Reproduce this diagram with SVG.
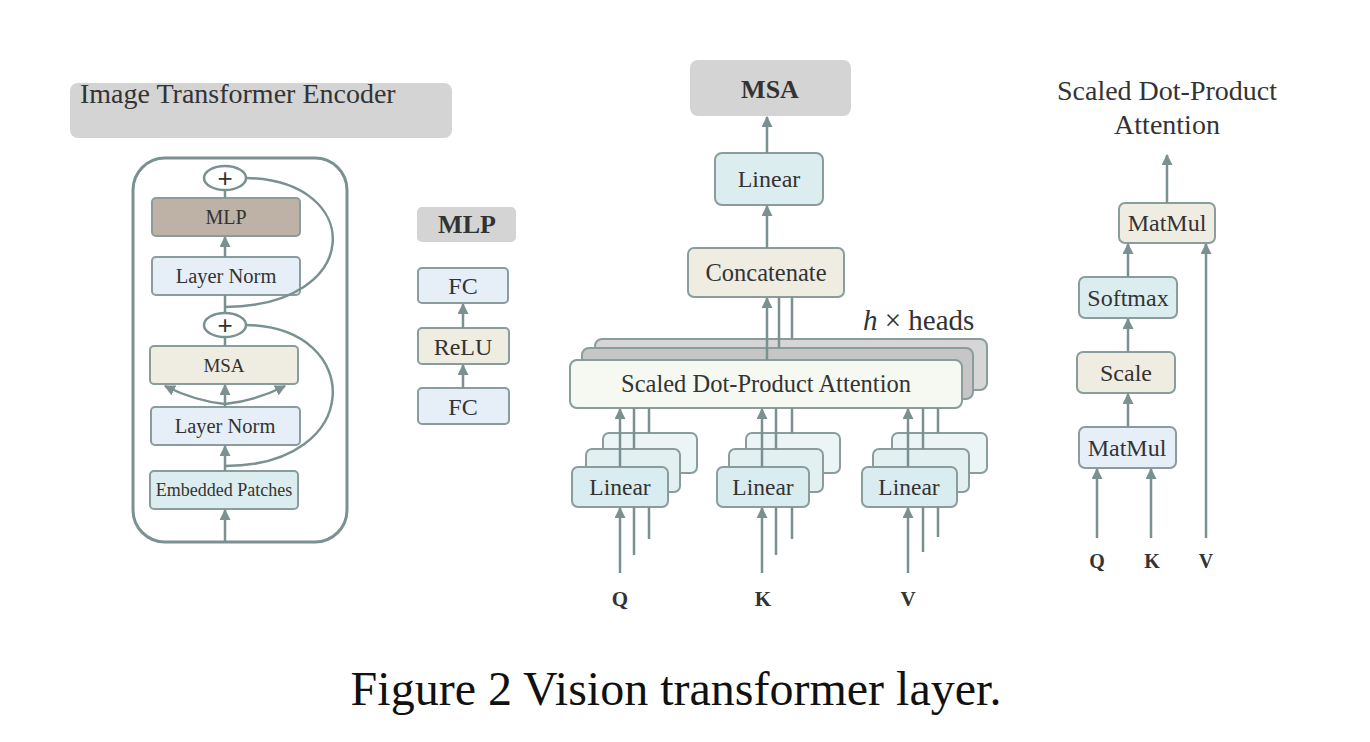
<svg xmlns="http://www.w3.org/2000/svg" width="1370" height="742" viewBox="0 0 1370 742">
<style>
  text { font-family: "Liberation Serif", "Times New Roman", serif; fill: #333; }
  .c { text-anchor: middle; }
  .box { stroke: #8a9c9c; stroke-width: 2; }
  .gray { fill: #d4d4d4; }
  .beige { fill: #efece2; }
  .blue { fill: #e6eef8; }
  .teal { fill: #dcedf0; }
  .brown { fill: #beb1a5; }
  .ln { stroke: #7b9090; stroke-width: 2.5; fill: none; }
  .arr { stroke: #7b9090; stroke-width: 2.5; fill: none; marker-end: url(#ah); }
</style>
<defs>
  <marker id="ah" viewBox="0 0 10 10" refX="9" refY="5" markerWidth="11" markerHeight="11" markerUnits="userSpaceOnUse" orient="auto">
    <path d="M0,0 L10,5 L0,10 z" fill="#7b9090"/>
  </marker>
</defs>
<rect width="1370" height="742" fill="#ffffff"/>

<!-- Left panel -->
<g id="encoder-title">
  <rect x="70" y="83" width="382" height="55" rx="8" class="gray"/>
  <text x="80" y="103" font-size="28">Image Transformer Encoder</text>
</g>
<g id="encoder-frame">
  <rect x="133" y="158" width="214" height="384" rx="32" fill="none" stroke="#7b9090" stroke-width="3"/>
</g>
<g id="add-top">
  <ellipse cx="225" cy="178" rx="21" ry="12" fill="#fff" stroke="#7b9090" stroke-width="2.5"/>
  <text x="225" y="187" class="c" font-size="26" style="font-family:'Liberation Sans',sans-serif" fill="#222">+</text>
</g>
<g id="enc-mlp">
  <rect x="152" y="198" width="148" height="38" rx="4" class="box brown"/>
  <text x="226" y="224" class="c" font-size="20">MLP</text>
</g>
<g id="enc-ln1">
  <rect x="152" y="257" width="148" height="38" rx="4" class="box blue"/>
  <text x="226" y="283" class="c" font-size="20.5">Layer Norm</text>
</g>
<g id="add-mid">
  <ellipse cx="225" cy="325" rx="21" ry="12" fill="#fff" stroke="#7b9090" stroke-width="2.5"/>
  <text x="225" y="334" class="c" font-size="26" style="font-family:'Liberation Sans',sans-serif" fill="#222">+</text>
</g>
<g id="enc-msa">
  <rect x="150" y="346" width="148" height="38" rx="4" class="box beige"/>
  <text x="224" y="372" class="c" font-size="19">MSA</text>
</g>
<g id="enc-ln2">
  <rect x="151" y="407" width="149" height="38" rx="4" class="box blue"/>
  <text x="225" y="433" class="c" font-size="20.5">Layer Norm</text>
</g>
<g id="enc-embed">
  <rect x="150" y="471" width="148" height="38" rx="4" class="box teal"/>
  <text x="224" y="496" class="c" font-size="18">Embedded Patches</text>
</g>

<!-- MLP panel -->
<g id="mlp-title">
  <rect x="417" y="207" width="99" height="35" rx="5" class="gray"/>
  <text x="467" y="233" class="c" font-size="26" font-weight="bold">MLP</text>
</g>
<g id="mlp-fc2">
  <rect x="418" y="268" width="90" height="35" rx="4" class="box blue"/>
  <text x="463" y="294" class="c" font-size="24">FC</text>
</g>
<g id="mlp-relu">
  <rect x="418" y="328" width="91" height="36" rx="4" class="box beige"/>
  <text x="463" y="355" class="c" font-size="24">ReLU</text>
</g>
<g id="mlp-fc1">
  <rect x="418" y="388" width="91" height="36" rx="4" class="box blue"/>
  <text x="463" y="415" class="c" font-size="24">FC</text>
</g>

<!-- Middle panel -->
<g id="msa-title">
  <rect x="690" y="60" width="161" height="56" rx="8" class="gray"/>
  <text x="770" y="98" class="c" font-size="26" font-weight="bold">MSA</text>
</g>
<g id="msa-linear">
  <rect x="715" y="153" width="108" height="52" rx="7" class="box teal"/>
  <text x="769" y="187" class="c" font-size="24">Linear</text>
</g>
<g id="concat">
  <rect x="688" y="248" width="156" height="49" rx="6" class="box beige"/>
  <text x="766" y="281" class="c" font-size="24.5">Concatenate</text>
</g>
<g id="heads-label">
  <text x="863" y="330" font-size="29"><tspan font-style="italic">h</tspan> × heads</text>
</g>
<g id="sdpa-stack">
  <rect x="595" y="339" width="392" height="51" rx="7" class="box" fill="#d6d6d6"/>
  <rect x="582" y="348" width="391" height="51" rx="7" class="box" fill="#c6c6c6"/>
  <rect x="570" y="360" width="392" height="48" rx="7" class="box" fill="#f6f8f2"/>
  <text x="766" y="392" class="c" font-size="24.5">Scaled Dot-Product Attention</text>
</g>
<g id="linear-q">
  <rect x="603" y="433" width="94" height="40" rx="6" class="box" fill="#ebf5f6"/>
  <rect x="586" y="449" width="94" height="43" rx="6" class="box" fill="#e2f0f2"/>
  <rect x="572" y="467" width="96" height="40" rx="6" class="box" fill="#d9ecef"/>
  <text x="620" y="495" class="c" font-size="23.5">Linear</text>
</g>
<g id="linear-k">
  <rect x="746" y="433" width="94" height="40" rx="6" class="box" fill="#ebf5f6"/>
  <rect x="729" y="449" width="94" height="43" rx="6" class="box" fill="#e2f0f2"/>
  <rect x="717" y="467" width="92" height="40" rx="6" class="box" fill="#d9ecef"/>
  <text x="763" y="495" class="c" font-size="23.5">Linear</text>
</g>
<g id="linear-v">
  <rect x="892" y="433" width="95" height="40" rx="6" class="box" fill="#ebf5f6"/>
  <rect x="873" y="449" width="96" height="43" rx="6" class="box" fill="#e2f0f2"/>
  <rect x="862" y="467" width="95" height="40" rx="6" class="box" fill="#d9ecef"/>
  <text x="909" y="495" class="c" font-size="23.5">Linear</text>
</g>
<g id="qkv-mid">
  <text x="620" y="606" class="c" font-size="21" font-weight="bold">Q</text>
  <text x="763" y="606" class="c" font-size="21" font-weight="bold">K</text>
  <text x="908" y="606" class="c" font-size="21" font-weight="bold">V</text>
</g>

<!-- Right panel -->
<g id="sdpa-title">
  <text x="1167" y="100" class="c" font-size="28">Scaled Dot-Product</text>
  <text x="1167" y="134" class="c" font-size="28">Attention</text>
</g>
<g id="matmul-top">
  <rect x="1119" y="203" width="96" height="40" rx="6" class="box beige"/>
  <text x="1167" y="231" class="c" font-size="24">MatMul</text>
</g>
<g id="softmax">
  <rect x="1079" y="277" width="98" height="41" rx="6" class="box teal"/>
  <text x="1128" y="306" class="c" font-size="24">Softmax</text>
</g>
<g id="scale">
  <rect x="1077" y="352" width="98" height="41" rx="6" class="box beige"/>
  <text x="1126" y="381" class="c" font-size="24">Scale</text>
</g>
<g id="matmul-bottom">
  <rect x="1079" y="427" width="97" height="41" rx="6" class="box blue"/>
  <text x="1127" y="456" class="c" font-size="24">MatMul</text>
</g>
<g id="qkv-right">
  <text x="1097" y="568" class="c" font-size="20" font-weight="bold">Q</text>
  <text x="1152" y="568" class="c" font-size="20" font-weight="bold">K</text>
  <text x="1206" y="568" class="c" font-size="20" font-weight="bold">V</text>
</g>

<g id="caption">
  <text x="676" y="705" class="c" font-size="48" style="fill:#111">Figure 2 Vision transformer layer.</text>
</g>

<!-- Connectors -->
<g id="connectors">
  <!-- encoder -->
  <line x1="225" y1="198" x2="225" y2="190" class="ln"/>
  <line x1="225" y1="257" x2="225" y2="237" class="arr"/>
  <line x1="225" y1="295" x2="225" y2="313" class="ln"/>
  <path d="M246,178 C365,180 365,306 225,307" class="ln"/>
  <line x1="225" y1="346" x2="225" y2="337" class="ln"/>
  <path d="M246,325 C365,327 365,466 225,466" class="ln"/>
  <line x1="225" y1="407" x2="225" y2="385" class="arr"/>
  <path d="M225,404 Q195,401 165,386" class="arr"/>
  <path d="M225,404 Q255,401 285,386" class="arr"/>
  <line x1="225" y1="471" x2="225" y2="446" class="arr"/>
  <line x1="225" y1="542" x2="225" y2="510" class="arr"/>
  <!-- MLP panel -->
  <line x1="463" y1="328" x2="463" y2="304" class="arr"/>
  <line x1="463" y1="388" x2="463" y2="365" class="arr"/>
  <!-- middle -->
  <line x1="767" y1="153" x2="767" y2="117" class="arr"/>
  <line x1="767" y1="248" x2="767" y2="206" class="arr"/>
  <line x1="767" y1="360" x2="767" y2="298" class="arr"/>
  <line x1="779" y1="348" x2="779" y2="297" class="ln"/>
  <line x1="792" y1="339" x2="792" y2="297" class="ln"/>
  <line x1="620" y1="467" x2="620" y2="409" class="arr"/>
  <line x1="634" y1="449" x2="634" y2="408" class="ln"/>
  <line x1="649" y1="433" x2="649" y2="408" class="ln"/>
  <line x1="762" y1="467" x2="762" y2="409" class="arr"/>
  <line x1="776" y1="449" x2="776" y2="408" class="ln"/>
  <line x1="792" y1="433" x2="792" y2="408" class="ln"/>
  <line x1="908" y1="467" x2="908" y2="409" class="arr"/>
  <line x1="923" y1="449" x2="923" y2="408" class="ln"/>
  <line x1="938" y1="433" x2="938" y2="408" class="ln"/>
  <line x1="620" y1="573" x2="620" y2="508" class="arr"/>
  <line x1="634" y1="555" x2="634" y2="507" class="ln"/>
  <line x1="649" y1="539" x2="649" y2="507" class="ln"/>
  <line x1="762" y1="573" x2="762" y2="508" class="arr"/>
  <line x1="776" y1="555" x2="776" y2="507" class="ln"/>
  <line x1="792" y1="539" x2="792" y2="507" class="ln"/>
  <line x1="908" y1="573" x2="908" y2="508" class="arr"/>
  <line x1="923" y1="552" x2="923" y2="507" class="ln"/>
  <line x1="938" y1="537" x2="938" y2="507" class="ln"/>
  <!-- right -->
  <line x1="1167" y1="203" x2="1167" y2="155" class="arr"/>
  <line x1="1128" y1="277" x2="1128" y2="244" class="arr"/>
  <line x1="1128" y1="352" x2="1128" y2="319" class="arr"/>
  <line x1="1128" y1="427" x2="1128" y2="394" class="arr"/>
  <line x1="1097" y1="538" x2="1097" y2="469" class="arr"/>
  <line x1="1151" y1="538" x2="1151" y2="469" class="arr"/>
  <line x1="1206" y1="538" x2="1206" y2="244" class="arr"/>
</g>
</svg>
